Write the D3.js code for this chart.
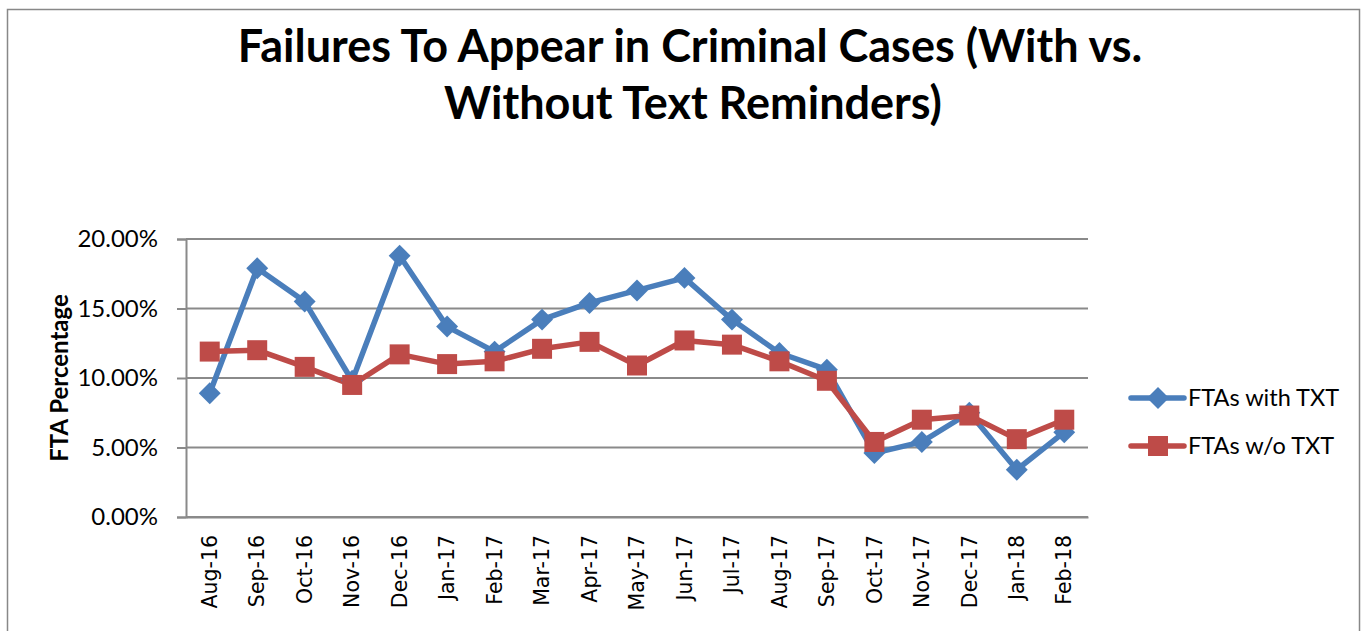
<!DOCTYPE html>
<html><head><meta charset="utf-8">
<script src="https://cdn.jsdelivr.net/npm/d3@7"></script>
<style>body{margin:0;background:#fff}svg{display:block}</style>
</head><body>
<svg id="c" width="1364" height="631"></svg>
<script>
const categories = ["Aug-16","Sep-16","Oct-16","Nov-16","Dec-16","Jan-17","Feb-17","Mar-17","Apr-17","May-17","Jun-17","Jul-17","Aug-17","Sep-17","Oct-17","Nov-17","Dec-17","Jan-18","Feb-18"];
const withTxt = [8.9,17.9,15.5,9.8,18.8,13.7,11.9,14.2,15.4,16.3,17.2,14.2,11.8,10.6,4.6,5.4,7.5,3.4,6.1];
const withoutTxt = [11.9,12.0,10.8,9.5,11.7,11.0,11.2,12.1,12.6,10.9,12.7,12.4,11.2,9.8,5.4,7.0,7.3,5.6,7.0];
const yTicks = [0,5,10,15,20];
const seriesNames = ["FTAs with TXT","FTAs w/o TXT"];
const colors = ["#4A7EBB","#BE4B48"];

(function(){
const svg = d3.select("#c");
const pL = 186, pR = 1088, pT = 239, pB = 517;
const x = d3.scaleBand().domain(categories).range([pL, pR]);
const y = d3.scaleLinear().domain([0,20]).range([pB, pT]);

svg.append("rect").attr("x",7.5).attr("y",9.5).attr("width",1352).attr("height",640)
  .attr("fill","none").attr("stroke","#888").attr("stroke-width",1.5);

const title = svg.append("text").attr("text-anchor","middle")
  .style("font-family","Lato, 'Open Sans', sans-serif").style("font-weight","bold").style("font-size","45px").attr("fill","#000");
title.append("tspan").attr("x",690).attr("y",62).text("Failures To Appear in Criminal Cases (With vs.");
title.append("tspan").attr("x",693).attr("y",119).text("Without Text Reminders)");

svg.append("g").selectAll("line").data(yTicks).join("line")
  .attr("x1",pL).attr("x2",pR).attr("y1",d=>y(d)).attr("y2",d=>y(d))
  .attr("stroke","#8a8a8a").attr("stroke-width",2);

const yAxis = svg.append("g").attr("transform",`translate(${pL},0)`)
  .call(d3.axisLeft(y).tickValues(yTicks).tickSize(9).tickPadding(19).tickFormat(d=>d.toFixed(2)+"%"));
yAxis.select(".domain").attr("stroke","#8a8a8a").attr("stroke-width",2);
yAxis.selectAll(".tick line").attr("stroke","#8a8a8a").attr("stroke-width",2);
yAxis.selectAll("text").style("font-family","Lato, sans-serif").style("font-size","24px").attr("fill","#000");

const xAxis = svg.append("g").attr("transform",`translate(0,${pB})`)
  .call(d3.axisBottom(x).tickSize(0).tickPadding(0));
xAxis.select(".domain").attr("stroke","#8a8a8a").attr("stroke-width",2);
xAxis.selectAll("text").attr("transform","rotate(-90)").attr("text-anchor","end")
  .attr("x",-18).attr("y",0).attr("dy","0.35em")
  .style("font-family","'DejaVu Sans', sans-serif").style("font-size","20.5px").attr("fill","#000");

svg.append("text").attr("transform",`translate(68,378) rotate(-90)`).attr("text-anchor","middle")
  .style("font-family","Lato, sans-serif").style("font-weight","bold").style("font-size","24px").text("FTA Percentage");

const cx = d => x(d) + x.bandwidth()/2;
const line = d3.line().x((d,i)=>cx(categories[i])).y(d=>y(d));
[withTxt, withoutTxt].forEach((s,k)=>{
  svg.append("path").datum(s).attr("d",line).attr("fill","none")
    .attr("stroke",colors[k]).attr("stroke-width",5.5).attr("stroke-linejoin","round");
});
const sym0 = d3.symbol().type(d3.symbolSquare).size(240);
svg.append("g").selectAll("path").data(withTxt).join("path")
  .attr("d",sym0).attr("fill",colors[0])
  .attr("transform",(d,i)=>`translate(${cx(categories[i])},${y(d)}) rotate(45)`);
const sym1 = d3.symbol().type(d3.symbolSquare).size(400);
svg.append("g").selectAll("path").data(withoutTxt).join("path")
  .attr("d",sym1).attr("fill",colors[1])
  .attr("transform",(d,i)=>`translate(${cx(categories[i])},${y(d)})`);

const leg = svg.append("g");
const ly = [398, 446];
seriesNames.forEach((n,k)=>{
  leg.append("line").attr("x1",1131).attr("x2",1184).attr("y1",ly[k]).attr("y2",ly[k])
    .attr("stroke",colors[k]).attr("stroke-width",5.5).attr("stroke-linecap","round");
  leg.append("path").attr("d",(k==0?sym0:sym1)())
    .attr("fill",colors[k]).attr("transform",`translate(1158,${ly[k]}) ${k==0?"rotate(45)":""}`);
  leg.append("text").attr("x",1188).attr("y",ly[k]).attr("dy","0.35em")
    .style("font-family","Lato, sans-serif").style("font-size","23.5px").text(n);
});
})();
</script>
</body></html>
